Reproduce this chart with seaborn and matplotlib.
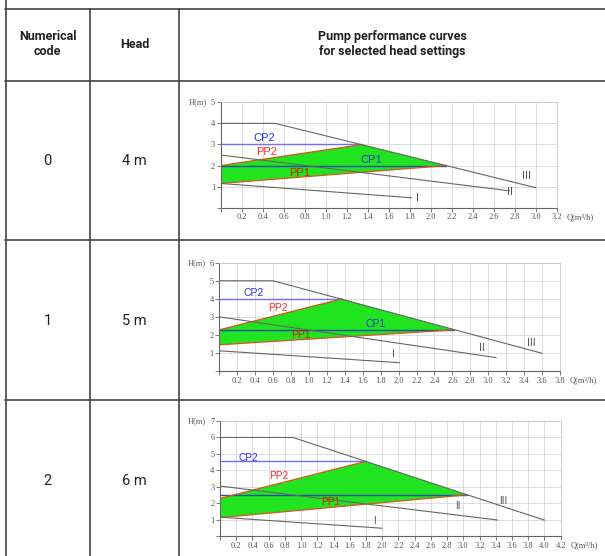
import matplotlib
matplotlib.use("Agg")
import matplotlib.pyplot as plt
from matplotlib.lines import Line2D
import seaborn as sns

# table content
codes = ["0", "1", "2"]
heads = ["4 m", "5 m", "6 m"]

# axis extents of each curve chart
q_max = [3.2, 3.8, 4.2]
h_max = [5, 6, 7]

# speed curves III, II, I (Q in m3/h, H in m)
iii_q = [[0, 0.52, 3.0], [0, 0.6, 3.6], [0, 0.9, 4.0]]
iii_h = [[4.0, 4.0, 0.95], [5.0, 5.0, 0.98], [6.0, 6.0, 0.98]]
ii_q = [[0, 2.75], [0, 3.09], [0, 3.42]]
ii_h = [[2.5, 0.8], [3.0, 0.74], [3.05, 0.99]]
i_q = [[0, 1.82], [0, 2.01], [0, 2.0]]
i_h = [[1.15, 0.47], [1.12, 0.46], [1.16, 0.49]]

# constant / proportional pressure settings
cp2_q = [1.35, 1.37, 1.8]
cp2_h = [3.0, 4.0, 4.55]
cp1_q = [2.15, 2.62, 3.05]
cp1_h = [2.0, 2.28, 2.52]
pp2_h0 = [2.0, 2.28, 2.3]
pp1_h0 = [1.15, 1.45, 1.13]

# label positions inside each chart (data coords)
lbl_pos = [
    {"CP2": (0.41, 3.33), "PP2": (0.44, 2.62), "CP1": (1.43, 2.25), "PP1": (0.75, 1.63),
     "III": (2.91, 1.52), "II": (2.76, 0.73), "I": (1.87, 0.48)},
    {"CP2": (0.38, 4.31), "PP2": (0.65, 3.5), "CP1": (1.74, 2.59), "PP1": (0.91, 2.0),
     "III": (3.48, 1.54), "II": (2.93, 1.26), "I": (1.94, 0.93)},
    {"CP2": (0.35, 4.77), "PP2": (0.72, 3.68), "PP1": (1.36, 2.1),
     "III": (3.49, 2.16), "II": (2.93, 1.86), "I": (1.9, 0.91)},
]
lbl_colors = {"CP2": "#2b2bff", "PP2": "#ff2a2a", "CP1": "#1f3fc0", "PP1": "#d02000",
              "III": "#555555", "II": "#555555", "I": "#555555"}
lbl_size = [8, 7.5, 7.2]

sns.set_style("white")
plt.rcParams['font.family'] = ['Roboto', 'DejaVu Sans']

W, H = 605, 556
fig = plt.figure(figsize=(W / 100, H / 100), dpi=100)


def fx(x):
    return x / W


def fy(y):
    return 1 - y / H


def hline(x0, x1, y):
    fig.add_artist(Line2D([fx(x0), fx(x1)], [fy(y), fy(y)], transform=fig.transFigure,
                          color="#444444", lw=1.2))


def vline(x, y0, y1):
    fig.add_artist(Line2D([fx(x), fx(x)], [fy(y0), fy(y1)], transform=fig.transFigure,
                          color="#444444", lw=1.2))


# table grid
hline(5, W, 8.5)
for y in [81, 240, 400]:
    hline(5, W, y)
vline(5.5, 0, H)
vline(90, 8.5, H)
vline(179, 8.5, H)

# header
fig.text(fx(47.5), fy(44), "Numerical\ncode", ha="center", va="center", fontsize=9,
         fontweight="bold", linespacing=1.25, color="#222222")
fig.text(fx(134.5), fy(44), "Head", ha="center", va="center", fontsize=9,
         fontweight="bold", color="#222222")
fig.text(fx(392), fy(44), "Pump performance curves\nfor selected head settings", ha="center",
         va="center", fontsize=9, fontweight="bold", linespacing=1.25, color="#222222")

row_mid = [161, 321, 481]
for k in range(3):
    fig.text(fx(47.5), fy(row_mid[k]), codes[k], ha="center", va="center", fontsize=10.5,
             color="#222222")
    fig.text(fx(134.5), fy(row_mid[k]), heads[k], ha="center", va="center", fontsize=10.5,
             color="#222222")

ax_box = [(220.7, 102.3, 556.7, 207.7), (219.3, 262.7, 560, 371), (220, 421, 560.7, 536.3)]
tick_font = {"family": "Liberation Serif", "size": 6}

for k in range(3):
    l, t, r, b = ax_box[k]
    ax = fig.add_axes([fx(l), fy(b), (r - l) / W, (b - t) / H])
    ax.set_axisbelow(True)

    # green working area between PP1 and PP2 / curve III
    ax.fill([0, 0, cp2_q[k], cp1_q[k]], [pp1_h0[k], pp2_h0[k], cp2_h[k], cp1_h[k]],
            color="#1fe41f", lw=0, zorder=1)

    for qs, hs in [(iii_q[k], iii_h[k]), (ii_q[k], ii_h[k]), (i_q[k], i_h[k])]:
        sns.lineplot(x=qs, y=hs, ax=ax, color="#666666", lw=0.8, zorder=3)
    sns.lineplot(x=[0, cp2_q[k]], y=[cp2_h[k], cp2_h[k]], ax=ax, color="#7070ff", lw=1.0, zorder=2)
    sns.lineplot(x=[0, cp1_q[k]], y=[cp1_h[k], cp1_h[k]], ax=ax, color="#1f4fa8", lw=1.0, zorder=2)
    sns.lineplot(x=[0, cp2_q[k]], y=[pp2_h0[k], cp2_h[k]], ax=ax, color="#d9541e", lw=0.9, zorder=2)
    sns.lineplot(x=[0, cp1_q[k]], y=[pp1_h0[k], cp1_h[k]], ax=ax, color="#d9541e", lw=0.9, zorder=2)

    for name, (qx, hy) in lbl_pos[k].items():
        ax.text(qx, hy, name, color=lbl_colors[name], fontsize=lbl_size[k],
                family="Liberation Sans", ha="center", va="center", zorder=5)

    ax.set_xlim(0, q_max[k])
    ax.set_ylim(0, h_max[k])
    n = int(round(q_max[k] / 0.2))
    xt = [round(0.2 * j, 1) for j in range(n + 1)]
    ax.set_xticks(xt)
    ax.set_xticklabels(["" if v == 0 else f"{v:.1f}" for v in xt], fontdict=tick_font)
    yt = list(range(h_max[k] + 1))
    ax.set_yticks(yt)
    ax.set_yticklabels(["" if v == 0 else str(v) for v in yt], fontdict=tick_font)
    ax.tick_params(direction="out", length=3, width=0.6, color="#666666", pad=1,
                   labelcolor="#555555", left=True, bottom=True)
    ax.grid(True, color="#d8d8d8", lw=0.6)
    for s in ["left", "bottom"]:
        ax.spines[s].set_color("#666666")
        ax.spines[s].set_linewidth(0.8)
    for s in ["top", "right"]:
        ax.spines[s].set_color("#c8c8c8")
        ax.spines[s].set_linewidth(0.6)
    ax.set_xlabel("")
    ax.set_ylabel("")
    ax.annotate("H(m)", xy=(0, h_max[k]), xytext=(-10, 0), textcoords="offset points",
                ha="right", va="center", fontsize=6, family="Liberation Serif",
                color="#555555", annotation_clip=False)
    ax.annotate("Q(m³/h)", xy=(q_max[k], 0), xytext=(7, -6.5), textcoords="offset points",
                ha="left", va="center", fontsize=6, family="Liberation Serif",
                color="#555555", annotation_clip=False)

fig.savefig("out.png", dpi=100)
